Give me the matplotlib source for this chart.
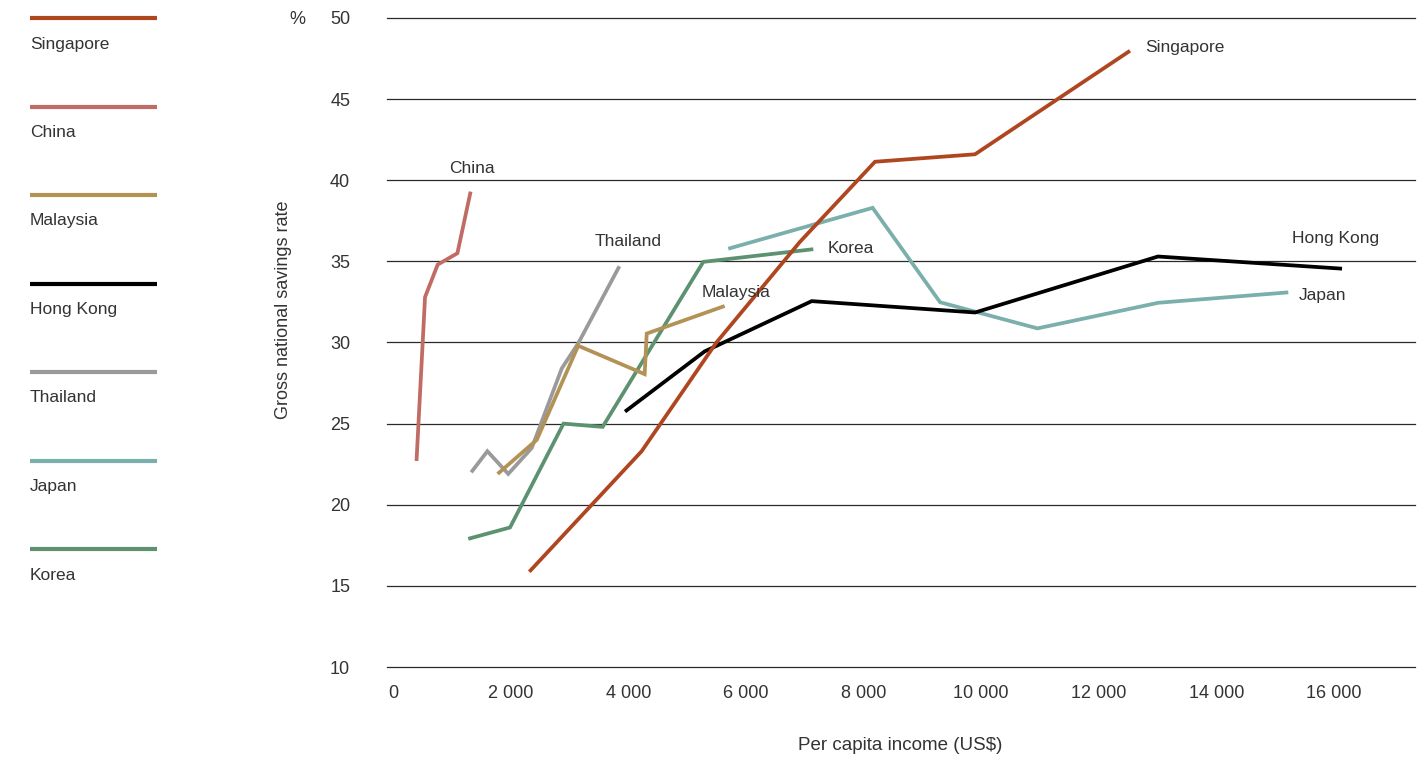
import matplotlib
matplotlib.use("Agg")
import matplotlib.pyplot as plt
from matplotlib.lines import Line2D

plt.rcParams['font.family'] = ['Liberation Sans', 'DejaVu Sans']

# ---- data ----
countries = ["Singapore", "China", "Malaysia", "Hong Kong", "Thailand", "Japan", "Korea"]
colors = ["#B0461F", "#C06B64", "#B39256", "#000000", "#9A9A9A", "#7AAFAC", "#5C9270"]

singapore_x = [2318, 4229, 5500, 6920, 8197, 9898, 12534]
singapore_y = [15.87, 23.3, 30.0, 36.2, 41.14, 41.6, 47.98]
china_x = [400, 545, 760, 1095, 1320]
china_y = [22.7, 32.8, 34.8, 35.5, 39.3]
malaysia_x = [1780, 2445, 3150, 4280, 4315, 5640]
malaysia_y = [21.9, 24.0, 29.8, 28.05, 30.55, 32.25]
hongkong_x = [3946, 5300, 7121, 9900, 13010, 16140]
hongkong_y = [25.74, 29.45, 32.55, 31.85, 35.3, 34.55]
thailand_x = [1330, 1605, 1960, 2360, 2870, 3150, 3850]
thailand_y = [22.0, 23.3, 21.9, 23.5, 28.4, 29.95, 34.7]
japan_x = [5702, 8157, 9305, 10960, 13019, 15226]
japan_y = [35.78, 38.3, 32.48, 30.87, 32.45, 33.09]
korea_x = [1280, 1990, 2900, 3565, 5277, 7148]
korea_y = [17.9, 18.6, 25.0, 24.8, 34.97, 35.75]

xs = [singapore_x, china_x, malaysia_x, hongkong_x, thailand_x, japan_x, korea_x]
ys = [singapore_y, china_y, malaysia_y, hongkong_y, thailand_y, japan_y, korea_y]

# in-chart label anchors (data coords, left edge)
label_x = [12790, 950, 5255, 15290, 3435, 15410, 7400]
label_y = [48.2, 40.75, 33.1, 36.4, 36.2, 32.9, 35.8]

y_ticks = [10, 15, 20, 25, 30, 35, 40, 45, 50]
x_ticks = [0, 2000, 4000, 6000, 8000, 10000, 12000, 14000, 16000]
x_tick_labels = ["0", "2 000", "4 000", "6 000", "8 000", "10 000", "12 000", "14 000", "16 000"]

W, H = 1427, 760
fig = plt.figure(figsize=(W / 100, H / 100), dpi=100)
ax = fig.add_axes([387 / W, (H - 667) / H, (1415 - 387) / W, (667 - 18) / H])
ax.set_xlim(-102, 17381)
ax.set_ylim(10, 50)

for yt in y_ticks:
    ax.axhline(yt, color="#2a2a2a", lw=0.9, zorder=1, clip_on=False)

draw_order = [6, 5, 4, 3, 2, 1, 0]
for i in draw_order:
    ax.plot(xs[i], ys[i], color=colors[i], lw=2.7, solid_joinstyle="miter",
            solid_capstyle="butt", zorder=4 if i == 0 else 3)

txt_color = "#333333"
for i, name in enumerate(countries):
    ax.text(label_x[i], label_y[i], name, fontsize=12.5, color=txt_color,
            ha="left", va="center", zorder=10)

for s in ax.spines.values():
    s.set_visible(False)
ax.tick_params(length=0)
ax.set_yticks(y_ticks)
ax.set_yticklabels([str(v) for v in y_ticks], fontsize=13, color=txt_color)
ax.tick_params(axis="y", pad=26.5)
ax.set_xticks(x_ticks)
ax.set_xticklabels(x_tick_labels, fontsize=13, color=txt_color)
ax.tick_params(axis="x", pad=13)

fig.text(297 / W, 1 - 19 / H, "%", fontsize=13, color=txt_color, ha="center", va="center")
fig.text(283 / W, 1 - 310 / H, "Gross national savings rate", fontsize=13,
         color=txt_color, rotation=90, ha="center", va="center")
fig.text(900 / W, 1 - 746 / H, "Per capita income (US$)", fontsize=13.5,
         color=txt_color, ha="center", va="center")

# legend at left
for k, name in enumerate(countries):
    ypx = 18 + k * 88.5
    fig.add_artist(Line2D([30 / W, 157 / W], [1 - ypx / H, 1 - ypx / H],
                          color=colors[k], lw=3, solid_capstyle="butt"))
    fig.text(30 / W, 1 - (ypx + 26) / H, name, fontsize=12.5, color=txt_color,
             ha="left", va="center")

fig.savefig("out.png", dpi=100)
